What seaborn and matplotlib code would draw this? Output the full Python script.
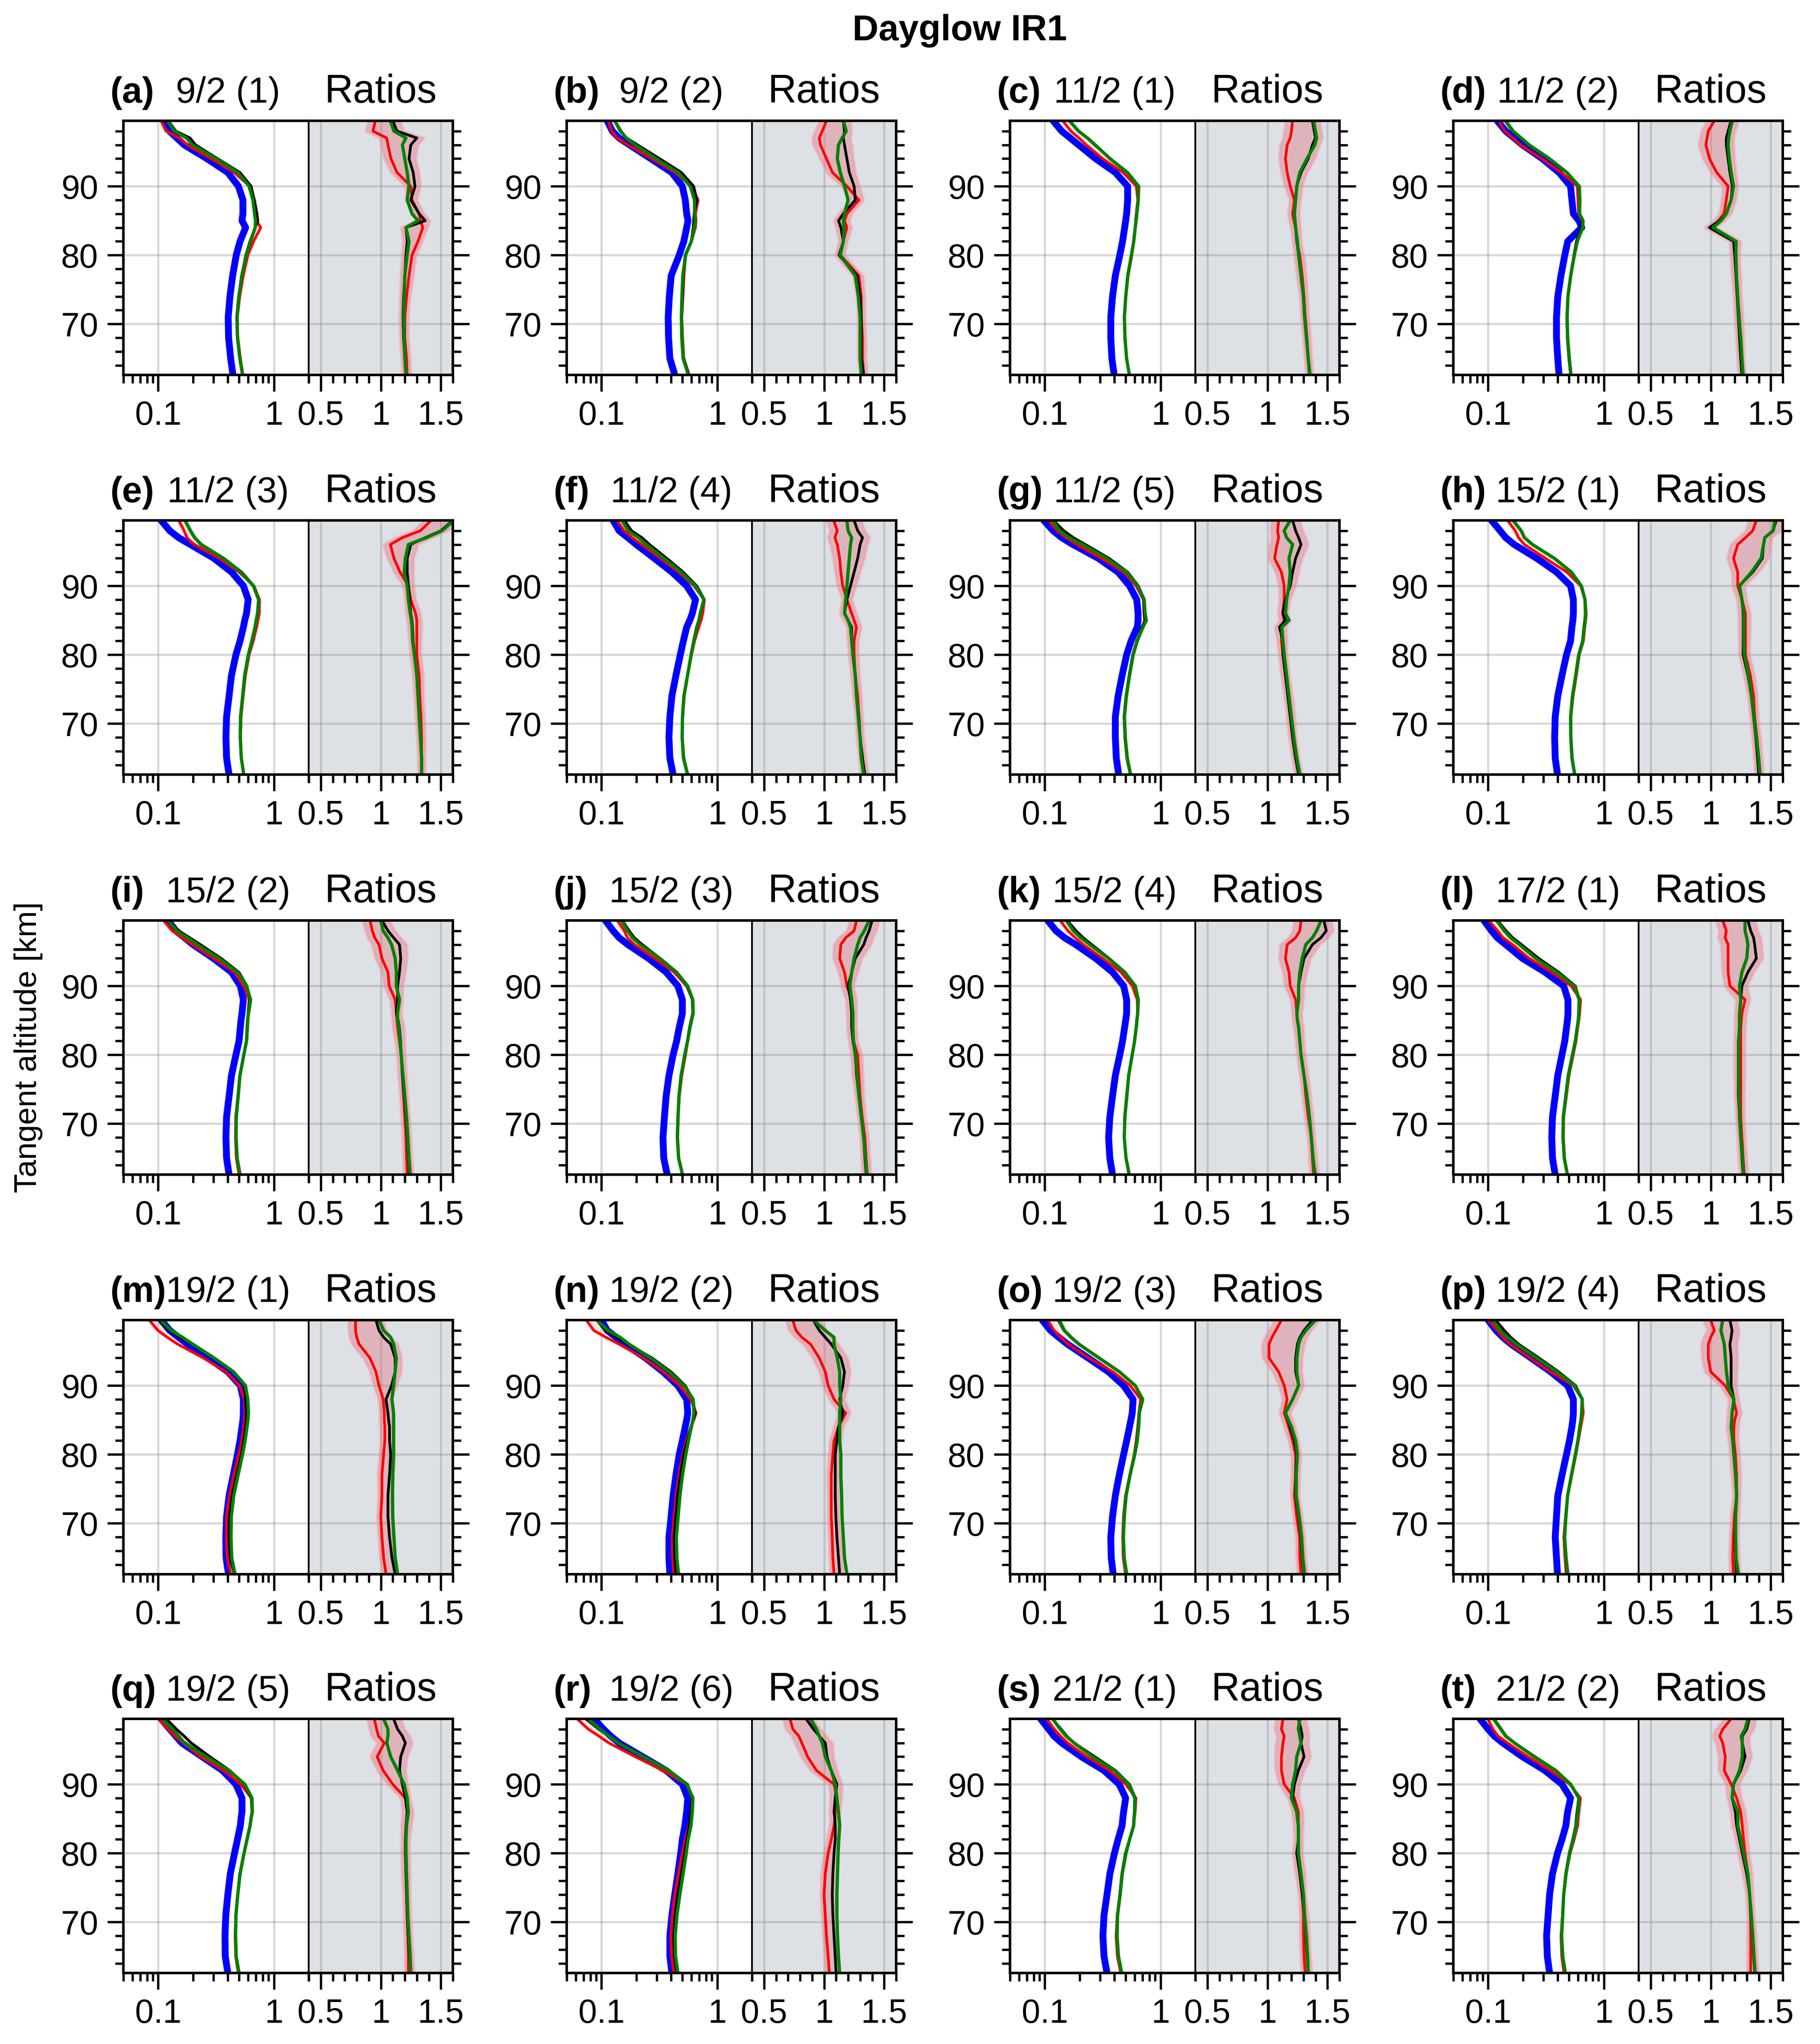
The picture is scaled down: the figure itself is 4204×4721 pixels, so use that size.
import numpy as np
import matplotlib
matplotlib.use("Agg")
import matplotlib.pyplot as plt
import seaborn as sns
from matplotlib.ticker import (FixedLocator, MultipleLocator, LogLocator,
                               NullFormatter, FixedFormatter)

# ---------------------------------------------------------------- data
ALT = [62.6, 65, 68, 71, 74, 77, 80, 82, 84, 85, 86, 88, 90, 92, 94, 96, 97, 98, 99.5]
UNC = [0.03, 0.03, 0.03, 0.03, 0.03, 0.035, 0.035, 0.035, 0.04, 0.04, 0.04, 0.04,
       0.045, 0.05, 0.055, 0.06, 0.06, 0.06, 0.06]

LETTERS = list("abcdefghijklmnopqrst")
DATES = ["9/2 (1)", "9/2 (2)", "11/2 (1)", "11/2 (2)", "11/2 (3)", "11/2 (4)",
         "11/2 (5)", "15/2 (1)", "15/2 (2)", "15/2 (3)", "15/2 (4)", "17/2 (1)",
         "19/2 (1)", "19/2 (2)", "19/2 (3)", "19/2 (4)", "19/2 (5)", "19/2 (6)",
         "21/2 (1)", "21/2 (2)"]

OBS_A = [0.443, 0.423, 0.406, 0.403, 0.417, 0.44, 0.473, 0.51, 0.57, 0.53, 0.54, 0.54, 0.494, 0.40, 0.264, 0.168, 0.145, 0.125, 0.111]
RED_A = [1.22, 1.215, 1.20, 1.20, 1.215, 1.235, 1.26, 1.31, 1.35, 1.33, 1.32, 1.26, 1.25, 1.135, 1.085, 1.06, 1.05, 0.935, 0.955]
BLK_A = [1.21, 1.20, 1.19, 1.185, 1.19, 1.20, 1.21, 1.22, 1.21, 1.37, 1.32, 1.25, 1.285, 1.27, 1.235, 1.25, 1.30, 1.135, 1.10]
GRN_A = [1.21, 1.20, 1.195, 1.19, 1.195, 1.20, 1.22, 1.235, 1.21, 1.31, 1.26, 1.22, 1.235, 1.22, 1.20, 1.18, 1.21, 1.11, 1.08]

OBS_B = [0.43, 0.39, 0.38, 0.377, 0.386, 0.40, 0.47, 0.515, 0.545, 0.56, 0.545, 0.53, 0.50, 0.405, 0.267, 0.175, 0.142, 0.124, 0.112]
RED_B = [1.33, 1.32, 1.32, 1.31, 1.31, 1.29, 1.135, 1.16, 1.19, 1.17, 1.19, 1.29, 1.19, 1.07, 1.02, 0.97, 0.96, 0.985, 1.02]
BLK_B = [1.33, 1.31, 1.31, 1.31, 1.30, 1.275, 1.125, 1.16, 1.14, 1.12, 1.16, 1.26, 1.25, 1.21, 1.19, 1.17, 1.16, 1.17, 1.16]
GRN_B = [1.31, 1.30, 1.30, 1.30, 1.285, 1.26, 1.135, 1.16, 1.165, 1.16, 1.17, 1.20, 1.17, 1.135, 1.11, 1.12, 1.15, 1.185, 1.16]

OBS_C = [0.398, 0.38, 0.372, 0.372, 0.385, 0.407, 0.445, 0.47, 0.49, 0.50, 0.51, 0.52, 0.52, 0.407, 0.275, 0.196, 0.166, 0.14, 0.118]
RED_C = [1.35, 1.34, 1.33, 1.315, 1.305, 1.29, 1.27, 1.245, 1.235, 1.22, 1.21, 1.225, 1.19, 1.165, 1.15, 1.165, 1.19, 1.20, 1.21]
BLK_C = [1.35, 1.34, 1.325, 1.31, 1.30, 1.28, 1.26, 1.245, 1.235, 1.23, 1.225, 1.235, 1.245, 1.28, 1.34, 1.375, 1.40, 1.39, 1.375]
GRN_C = [1.355, 1.34, 1.325, 1.31, 1.30, 1.28, 1.26, 1.25, 1.235, 1.23, 1.225, 1.235, 1.245, 1.27, 1.33, 1.395, 1.41, 1.40, 1.385]

OBS_D = [0.41, 0.40, 0.39, 0.39, 0.40, 0.426, 0.46, 0.488, 0.645, 0.61, 0.546, 0.53, 0.516, 0.41, 0.294, 0.198, 0.168, 0.142, 0.12]
RED_D = [1.26, 1.25, 1.245, 1.24, 1.225, 1.215, 1.205, 1.215, 1.005, 1.065, 1.11, 1.13, 1.145, 1.05, 0.99, 0.96, 0.97, 0.98, 1.03]
BLK_D = [1.26, 1.25, 1.24, 1.23, 1.22, 1.21, 1.20, 1.19, 0.99, 1.075, 1.13, 1.17, 1.18, 1.16, 1.145, 1.13, 1.13, 1.145, 1.17]
GRN_D = [1.27, 1.26, 1.25, 1.235, 1.225, 1.215, 1.21, 1.21, 1.02, 1.085, 1.13, 1.17, 1.19, 1.17, 1.155, 1.145, 1.15, 1.16, 1.18]

OBS_E = [0.41, 0.39, 0.385, 0.39, 0.41, 0.43, 0.47, 0.51, 0.545, 0.56, 0.58, 0.60, 0.545, 0.431, 0.303, 0.19, 0.15, 0.126, 0.106]
RED_E = [1.34, 1.34, 1.34, 1.335, 1.325, 1.32, 1.30, 1.30, 1.30, 1.30, 1.29, 1.25, 1.23, 1.16, 1.11, 1.08, 1.18, 1.33, 1.42]
BLK_E = [1.34, 1.34, 1.33, 1.32, 1.31, 1.30, 1.28, 1.27, 1.265, 1.26, 1.25, 1.24, 1.23, 1.22, 1.22, 1.25, 1.37, 1.50, 1.60]
GRN_E = [1.34, 1.34, 1.33, 1.32, 1.31, 1.30, 1.28, 1.265, 1.26, 1.255, 1.245, 1.23, 1.22, 1.195, 1.205, 1.23, 1.38, 1.51, 1.61]

OBS_F = [0.416, 0.39, 0.383, 0.39, 0.406, 0.44, 0.48, 0.51, 0.545, 0.58, 0.61, 0.65, 0.545, 0.406, 0.286, 0.20, 0.169, 0.142, 0.126]
RED_F = [1.33, 1.32, 1.30, 1.29, 1.28, 1.26, 1.25, 1.25, 1.27, 1.25, 1.23, 1.19, 1.155, 1.14, 1.13, 1.11, 1.09, 1.11, 1.08]
BLK_F = [1.34, 1.32, 1.30, 1.29, 1.27, 1.26, 1.24, 1.23, 1.23, 1.20, 1.17, 1.19, 1.22, 1.25, 1.28, 1.30, 1.32, 1.28, 1.25]
GRN_F = [1.33, 1.31, 1.30, 1.285, 1.27, 1.26, 1.24, 1.23, 1.22, 1.20, 1.17, 1.18, 1.19, 1.20, 1.21, 1.22, 1.23, 1.20, 1.19]

OBS_G = [0.435, 0.415, 0.407, 0.407, 0.43, 0.466, 0.51, 0.557, 0.63, 0.64, 0.64, 0.624, 0.54, 0.43, 0.29, 0.175, 0.14, 0.118, 0.098]
RED_G = [1.26, 1.235, 1.21, 1.20, 1.18, 1.15, 1.13, 1.117, 1.117, 1.14, 1.127, 1.14, 1.14, 1.117, 1.06, 1.08, 1.094, 1.085, 1.094]
BLK_G = [1.26, 1.235, 1.21, 1.19, 1.17, 1.15, 1.13, 1.13, 1.10, 1.15, 1.13, 1.15, 1.19, 1.21, 1.235, 1.28, 1.26, 1.235, 1.21]
GRN_G = [1.27, 1.245, 1.22, 1.20, 1.18, 1.16, 1.14, 1.13, 1.12, 1.18, 1.15, 1.16, 1.18, 1.19, 1.18, 1.21, 1.16, 1.14, 1.19]

OBS_H = [0.398, 0.38, 0.376, 0.38, 0.40, 0.435, 0.476, 0.516, 0.53, 0.54, 0.546, 0.546, 0.516, 0.39, 0.263, 0.168, 0.142, 0.127, 0.107]
RED_H = [1.41, 1.40, 1.385, 1.366, 1.357, 1.33, 1.29, 1.29, 1.29, 1.29, 1.29, 1.26, 1.225, 1.225, 1.19, 1.225, 1.29, 1.35, 1.38]
BLK_H = [1.40, 1.39, 1.375, 1.357, 1.338, 1.31, 1.27, 1.27, 1.27, 1.27, 1.27, 1.26, 1.24, 1.35, 1.43, 1.44, 1.45, 1.52, 1.545]
GRN_H = [1.41, 1.40, 1.38, 1.36, 1.34, 1.315, 1.28, 1.275, 1.275, 1.275, 1.275, 1.26, 1.24, 1.34, 1.42, 1.44, 1.45, 1.52, 1.535]

OBS_I = [0.41, 0.39, 0.385, 0.39, 0.41, 0.43, 0.47, 0.50, 0.513, 0.52, 0.53, 0.545, 0.513, 0.43, 0.30, 0.20, 0.169, 0.142, 0.122]
RED_I = [1.22, 1.215, 1.21, 1.20, 1.19, 1.18, 1.17, 1.155, 1.14, 1.135, 1.13, 1.12, 1.07, 1.06, 1.01, 0.985, 0.95, 0.93, 0.91]
BLK_I = [1.24, 1.23, 1.22, 1.21, 1.195, 1.18, 1.17, 1.165, 1.155, 1.145, 1.13, 1.14, 1.14, 1.156, 1.166, 1.156, 1.107, 1.06, 1.01]
GRN_I = [1.245, 1.235, 1.225, 1.215, 1.20, 1.185, 1.17, 1.16, 1.15, 1.14, 1.14, 1.156, 1.13, 1.13, 1.12, 1.09, 1.06, 1.02, 1.0]

OBS_J = [0.37, 0.345, 0.34, 0.35, 0.362, 0.383, 0.416, 0.446, 0.47, 0.485, 0.50, 0.50, 0.457, 0.362, 0.255, 0.169, 0.142, 0.126, 0.108]
RED_J = [1.36, 1.35, 1.34, 1.317, 1.30, 1.29, 1.28, 1.245, 1.23, 1.23, 1.23, 1.23, 1.19, 1.17, 1.13, 1.14, 1.18, 1.25, 1.27]
BLK_J = [1.35, 1.34, 1.33, 1.31, 1.29, 1.27, 1.26, 1.24, 1.23, 1.23, 1.23, 1.22, 1.20, 1.23, 1.26, 1.33, 1.35, 1.375, 1.40]
GRN_J = [1.355, 1.345, 1.33, 1.31, 1.29, 1.275, 1.26, 1.245, 1.24, 1.24, 1.24, 1.23, 1.215, 1.23, 1.25, 1.28, 1.30, 1.335, 1.375]

OBS_K = [0.385, 0.365, 0.356, 0.365, 0.385, 0.407, 0.445, 0.47, 0.49, 0.50, 0.51, 0.51, 0.48, 0.385, 0.275, 0.185, 0.148, 0.125, 0.106]
RED_K = [1.385, 1.375, 1.366, 1.34, 1.32, 1.305, 1.28, 1.27, 1.26, 1.25, 1.245, 1.235, 1.19, 1.18, 1.15, 1.165, 1.235, 1.27, 1.28]
BLK_K = [1.40, 1.38, 1.366, 1.35, 1.33, 1.305, 1.28, 1.27, 1.26, 1.25, 1.245, 1.26, 1.26, 1.28, 1.305, 1.375, 1.446, 1.49, 1.47]
GRN_K = [1.395, 1.38, 1.366, 1.35, 1.33, 1.305, 1.28, 1.27, 1.26, 1.25, 1.245, 1.26, 1.26, 1.27, 1.29, 1.32, 1.375, 1.41, 1.446]

OBS_L = [0.38, 0.36, 0.355, 0.36, 0.38, 0.40, 0.435, 0.46, 0.476, 0.485, 0.49, 0.49, 0.45, 0.31, 0.198, 0.142, 0.12, 0.107, 0.092]
RED_L = [1.28, 1.27, 1.26, 1.25, 1.25, 1.25, 1.25, 1.25, 1.25, 1.255, 1.26, 1.286, 1.16, 1.145, 1.145, 1.145, 1.12, 1.13, 1.10]
BLK_L = [1.27, 1.26, 1.25, 1.24, 1.23, 1.23, 1.23, 1.23, 1.24, 1.24, 1.24, 1.25, 1.26, 1.31, 1.38, 1.366, 1.357, 1.333, 1.31]
GRN_L = [1.275, 1.265, 1.25, 1.24, 1.235, 1.233, 1.233, 1.233, 1.24, 1.24, 1.24, 1.25, 1.24, 1.26, 1.30, 1.31, 1.30, 1.286, 1.286]

OBS_M = [0.406, 0.386, 0.384, 0.39, 0.41, 0.446, 0.485, 0.51, 0.53, 0.54, 0.545, 0.545, 0.513, 0.40, 0.27, 0.18, 0.15, 0.126, 0.106]
RED_M = [1.044, 1.024, 1.01, 1.0, 1.01, 1.01, 1.024, 1.034, 1.034, 1.03, 1.03, 1.02, 0.985, 0.96, 0.91, 0.82, 0.80, 0.79, 0.79]
BLK_M = [1.12, 1.093, 1.073, 1.06, 1.06, 1.073, 1.083, 1.073, 1.073, 1.065, 1.06, 1.044, 1.09, 1.12, 1.12, 1.083, 1.024, 0.985, 0.96]
GRN_M = [1.14, 1.12, 1.11, 1.10, 1.098, 1.10, 1.107, 1.107, 1.107, 1.107, 1.107, 1.093, 1.107, 1.12, 1.13, 1.107, 1.083, 1.024, 0.985]

OBS_N = [0.39, 0.383, 0.383, 0.40, 0.416, 0.44, 0.47, 0.50, 0.53, 0.545, 0.557, 0.545, 0.457, 0.34, 0.24, 0.16, 0.134, 0.112, 0.10]
RED_N = [1.083, 1.073, 1.068, 1.06, 1.06, 1.06, 1.073, 1.083, 1.12, 1.15, 1.18, 1.083, 1.034, 1.01, 0.96, 0.888, 0.815, 0.766, 0.74]
BLK_N = [1.13, 1.12, 1.107, 1.098, 1.093, 1.093, 1.093, 1.107, 1.12, 1.14, 1.156, 1.13, 1.156, 1.17, 1.14, 1.06, 1.01, 0.96, 0.91]
GRN_N = [1.19, 1.17, 1.16, 1.15, 1.146, 1.14, 1.14, 1.13, 1.13, 1.13, 1.13, 1.14, 1.13, 1.13, 1.11, 1.083, 1.083, 1.01, 0.91]

OBS_O = [0.39, 0.375, 0.372, 0.385, 0.407, 0.44, 0.48, 0.51, 0.54, 0.555, 0.57, 0.58, 0.48, 0.355, 0.237, 0.157, 0.132, 0.112, 0.095]
RED_O = [1.28, 1.27, 1.268, 1.244, 1.225, 1.235, 1.235, 1.21, 1.178, 1.16, 1.14, 1.164, 1.14, 1.094, 1.014, 1.014, 1.038, 1.07, 1.117]
BLK_O = [1.305, 1.29, 1.28, 1.26, 1.235, 1.235, 1.244, 1.225, 1.19, 1.17, 1.15, 1.21, 1.26, 1.235, 1.235, 1.25, 1.27, 1.305, 1.376]
GRN_O = [1.31, 1.295, 1.285, 1.265, 1.24, 1.24, 1.25, 1.235, 1.20, 1.175, 1.15, 1.21, 1.26, 1.245, 1.245, 1.26, 1.28, 1.32, 1.40]

OBS_P = [0.398, 0.39, 0.38, 0.39, 0.40, 0.435, 0.476, 0.505, 0.53, 0.54, 0.546, 0.546, 0.487, 0.347, 0.235, 0.158, 0.134, 0.117, 0.10]
RED_P = [1.19, 1.183, 1.188, 1.197, 1.216, 1.216, 1.206, 1.193, 1.193, 1.2, 1.216, 1.19, 1.12, 1.0, 0.98, 0.98, 1.0, 1.03, 1.0]
BLK_P = [1.216, 1.207, 1.202, 1.207, 1.216, 1.207, 1.193, 1.183, 1.17, 1.175, 1.178, 1.193, 1.17, 1.17, 1.17, 1.16, 1.17, 1.178, 1.16]
GRN_P = [1.23, 1.211, 1.207, 1.207, 1.216, 1.207, 1.193, 1.183, 1.17, 1.175, 1.178, 1.193, 1.146, 1.131, 1.122, 1.113, 1.099, 1.085, 1.10]

OBS_Q = [0.40, 0.38, 0.378, 0.384, 0.40, 0.42, 0.457, 0.485, 0.513, 0.52, 0.53, 0.53, 0.47, 0.36, 0.24, 0.16, 0.142, 0.126, 0.106]
RED_Q = [1.23, 1.23, 1.225, 1.22, 1.215, 1.21, 1.205, 1.205, 1.215, 1.225, 1.23, 1.205, 1.10, 1.02, 0.97, 1.03, 0.98, 0.966, 0.946]
BLK_Q = [1.25, 1.24, 1.23, 1.22, 1.215, 1.21, 1.205, 1.205, 1.21, 1.215, 1.22, 1.205, 1.18, 1.156, 1.166, 1.205, 1.18, 1.14, 1.107]
GRN_Q = [1.25, 1.245, 1.235, 1.225, 1.22, 1.215, 1.21, 1.21, 1.215, 1.22, 1.23, 1.22, 1.195, 1.14, 1.083, 1.05, 1.06, 1.06, 1.024]

OBS_R = [0.406, 0.39, 0.39, 0.406, 0.43, 0.457, 0.484, 0.50, 0.526, 0.535, 0.545, 0.557, 0.50, 0.362, 0.227, 0.142, 0.12, 0.104, 0.086]
RED_R = [1.044, 1.034, 1.02, 1.01, 1.0, 1.01, 1.034, 1.06, 1.083, 1.09, 1.093, 1.107, 1.083, 0.937, 0.863, 0.815, 0.79, 0.74, 0.717]
BLK_R = [1.10, 1.093, 1.083, 1.073, 1.068, 1.073, 1.083, 1.093, 1.093, 1.09, 1.083, 1.093, 1.107, 1.06, 1.024, 1.01, 0.96, 0.912, 0.85]
GRN_R = [1.13, 1.12, 1.112, 1.107, 1.107, 1.112, 1.117, 1.122, 1.13, 1.125, 1.12, 1.107, 1.093, 1.06, 1.01, 0.985, 0.96, 0.937, 0.888]

OBS_S = [0.345, 0.325, 0.318, 0.325, 0.345, 0.365, 0.40, 0.43, 0.466, 0.472, 0.48, 0.50, 0.44, 0.325, 0.207, 0.14, 0.12, 0.108, 0.092]
RED_S = [1.315, 1.305, 1.30, 1.30, 1.29, 1.28, 1.258, 1.258, 1.258, 1.258, 1.258, 1.225, 1.14, 1.117, 1.117, 1.13, 1.14, 1.117, 1.13]
BLK_S = [1.34, 1.33, 1.32, 1.31, 1.29, 1.27, 1.244, 1.258, 1.258, 1.25, 1.244, 1.21, 1.225, 1.258, 1.305, 1.28, 1.29, 1.28, 1.258]
GRN_S = [1.34, 1.335, 1.325, 1.31, 1.30, 1.28, 1.258, 1.258, 1.258, 1.25, 1.244, 1.20, 1.21, 1.235, 1.244, 1.28, 1.27, 1.258, 1.27]

OBS_T = [0.34, 0.325, 0.32, 0.33, 0.34, 0.36, 0.398, 0.435, 0.47, 0.478, 0.487, 0.516, 0.435, 0.31, 0.198, 0.134, 0.113, 0.10, 0.085]
RED_T = [1.333, 1.333, 1.333, 1.333, 1.324, 1.31, 1.286, 1.273, 1.263, 1.256, 1.25, 1.216, 1.17, 1.113, 1.122, 1.10, 1.075, 1.10, 1.17]
BLK_T = [1.366, 1.357, 1.347, 1.333, 1.324, 1.30, 1.263, 1.24, 1.216, 1.21, 1.206, 1.178, 1.19, 1.25, 1.286, 1.263, 1.263, 1.30, 1.32]
GRN_T = [1.37, 1.36, 1.35, 1.338, 1.324, 1.31, 1.273, 1.25, 1.226, 1.226, 1.226, 1.178, 1.19, 1.24, 1.263, 1.263, 1.254, 1.286, 1.31]

PANELS = [
    (OBS_A, RED_A, BLK_A, GRN_A), (OBS_B, RED_B, BLK_B, GRN_B),
    (OBS_C, RED_C, BLK_C, GRN_C), (OBS_D, RED_D, BLK_D, GRN_D),
    (OBS_E, RED_E, BLK_E, GRN_E), (OBS_F, RED_F, BLK_F, GRN_F),
    (OBS_G, RED_G, BLK_G, GRN_G), (OBS_H, RED_H, BLK_H, GRN_H),
    (OBS_I, RED_I, BLK_I, GRN_I), (OBS_J, RED_J, BLK_J, GRN_J),
    (OBS_K, RED_K, BLK_K, GRN_K), (OBS_L, RED_L, BLK_L, GRN_L),
    (OBS_M, RED_M, BLK_M, GRN_M), (OBS_N, RED_N, BLK_N, GRN_N),
    (OBS_O, RED_O, BLK_O, GRN_O), (OBS_P, RED_P, BLK_P, GRN_P),
    (OBS_Q, RED_Q, BLK_Q, GRN_Q), (OBS_R, RED_R, BLK_R, GRN_R),
    (OBS_S, RED_S, BLK_S, GRN_S), (OBS_T, RED_T, BLK_T, GRN_T),
]

# ---------------------------------------------------------------- style
sns.set_theme(style="ticks")
plt.rcParams["font.family"] = ["Liberation Sans", "DejaVu Sans"]
for key in ("text.color", "axes.labelcolor", "xtick.color", "ytick.color",
            "axes.edgecolor"):
    plt.rcParams[key] = "black"

W, H, DPI = 4204, 4721, 300
fig = plt.figure(figsize=(W / DPI, H / DPI), dpi=DPI)

COL_X0 = [285, 1309, 2333, 3357]
ROW_Y0 = [279, 1202, 2126, 3049, 3970]
WL, WR, HP = 428, 333, 587

C_BLUE, C_RED, C_BLK, C_GRN = "#0000ff", "#ff0000", "#000000", "#008000"
BAND = "#e06070"
GRAY_BG = "#dde0e4"


def fx(px):
    return px / W


def fy(py):
    return 1 - py / H


alt = np.array(ALT)
unc = np.array(UNC)

for i, (obs, red, blk, grn) in enumerate(PANELS):
    r, c = divmod(i, 4)
    x0, y0 = COL_X0[c], ROW_Y0[r]
    axL = fig.add_axes([fx(x0), fy(y0 + HP), WL / W, HP / H])
    axR = fig.add_axes([fx(x0 + WL), fy(y0 + HP), WR / W, HP / H])

    obs = np.array(obs)
    red = np.array(red)
    blk = np.array(blk)
    grn = np.array(grn)

    axL.set_xscale("log")
    axR.set_facecolor(GRAY_BG)

    # ---- left: profiles
    lo = np.minimum(red, blk)
    hi = np.maximum(red, blk)
    axL.fill_betweenx(alt, obs * lo * (1 - unc), obs * hi * (1 + unc),
                      color=BAND, alpha=0.18, lw=0)
    sns.lineplot(x=obs, y=alt, orient="y", sort=False, estimator=None,
                 color=C_BLUE, lw=3.8, ax=axL)
    sns.lineplot(x=obs * red, y=alt, orient="y", sort=False, estimator=None,
                 color=C_RED, lw=1.5, ax=axL)
    sns.lineplot(x=obs * blk, y=alt, orient="y", sort=False, estimator=None,
                 color=C_BLK, lw=1.5, ax=axL)
    sns.lineplot(x=obs * grn, y=alt, orient="y", sort=False, estimator=None,
                 color=C_GRN, lw=1.8, ax=axL)

    # ---- right: ratios
    axR.fill_betweenx(alt, lo - unc, hi + unc, facecolor=BAND, alpha=0.35,
                      edgecolor=(1.0, 0.55, 0.6, 0.5), lw=1.5)
    sns.lineplot(x=red, y=alt, orient="y", sort=False, estimator=None,
                 color=C_RED, lw=1.5, ax=axR)
    sns.lineplot(x=blk, y=alt, orient="y", sort=False, estimator=None,
                 color=C_BLK, lw=1.5, ax=axR)
    sns.lineplot(x=grn, y=alt, orient="y", sort=False, estimator=None,
                 color=C_GRN, lw=1.8, ax=axR)

    # ---- axes cosmetics
    for ax in (axL, axR):
        ax.set_ylim(62.6, 99.5)
        ax.yaxis.set_major_locator(MultipleLocator(10))
        ax.yaxis.set_minor_locator(MultipleLocator(2))
        ax.set_xlabel("")
        ax.set_ylabel("")
        ax.set_axisbelow(True)
        ax.grid(True, which="major", color="gray", alpha=0.3, lw=1.2)
        ax.grid(False, which="minor")
        for s in ax.spines.values():
            s.set_linewidth(1.4)
            s.set_color("black")
        ax.tick_params(which="major", length=9, width=1.3, labelsize=18.5,
                       pad=5, color="black", labelcolor="black", direction="out")
        ax.tick_params(which="minor", length=4.5, width=1.3, color="black",
                       direction="out")

    axL.set_xlim(0.05, 2)
    axL.xaxis.set_major_locator(FixedLocator([0.1, 1]))
    axL.xaxis.set_major_formatter(FixedFormatter(["0.1", "1"]))
    axL.xaxis.set_minor_locator(LogLocator(base=10, subs=np.arange(2, 10), numticks=20))
    axL.xaxis.set_minor_formatter(NullFormatter())
    axL.spines["right"].set_visible(False)
    axL.tick_params(axis="y", which="both", left=True, right=False,
                    labelleft=True, labelright=False)
    axL.tick_params(axis="x", which="both", bottom=True, top=False)

    axR.set_xlim(0.4, 1.6)
    axR.xaxis.set_major_locator(FixedLocator([0.5, 1, 1.5]))
    axR.xaxis.set_major_formatter(FixedFormatter(["0.5", "1", "1.5"]))
    axR.xaxis.set_minor_locator(MultipleLocator(0.1))
    axR.spines["left"].set_linewidth(1.0)
    axR.tick_params(axis="y", which="both", left=False, right=True,
                    labelleft=False, labelright=False)
    axR.tick_params(axis="x", which="both", bottom=True, top=False)

    # ---- panel titles
    fig.text(fx(x0 - 30), fy(y0 - 42), f"({LETTERS[i]})", fontweight="bold",
             fontsize=20, ha="left", va="baseline", color="black")
    fig.text(fx(x0 + 242), fy(y0 - 42), DATES[i], fontsize=20,
             ha="center", va="baseline", color="black")
    fig.text(fx(x0 + WL + WR / 2), fy(y0 - 42), "Ratios", fontsize=22,
             ha="center", va="baseline", color="black")

fig.text(fx(2217), fy(93), "Dayglow IR1", fontweight="bold", fontsize=20,
         ha="center", va="baseline", color="black")
fig.text(fx(66), fy(2419), "Tangent altitude [km]", rotation=90, fontsize=17.5,
         ha="center", va="center", color="black")

fig.savefig("out.png", dpi=DPI)
